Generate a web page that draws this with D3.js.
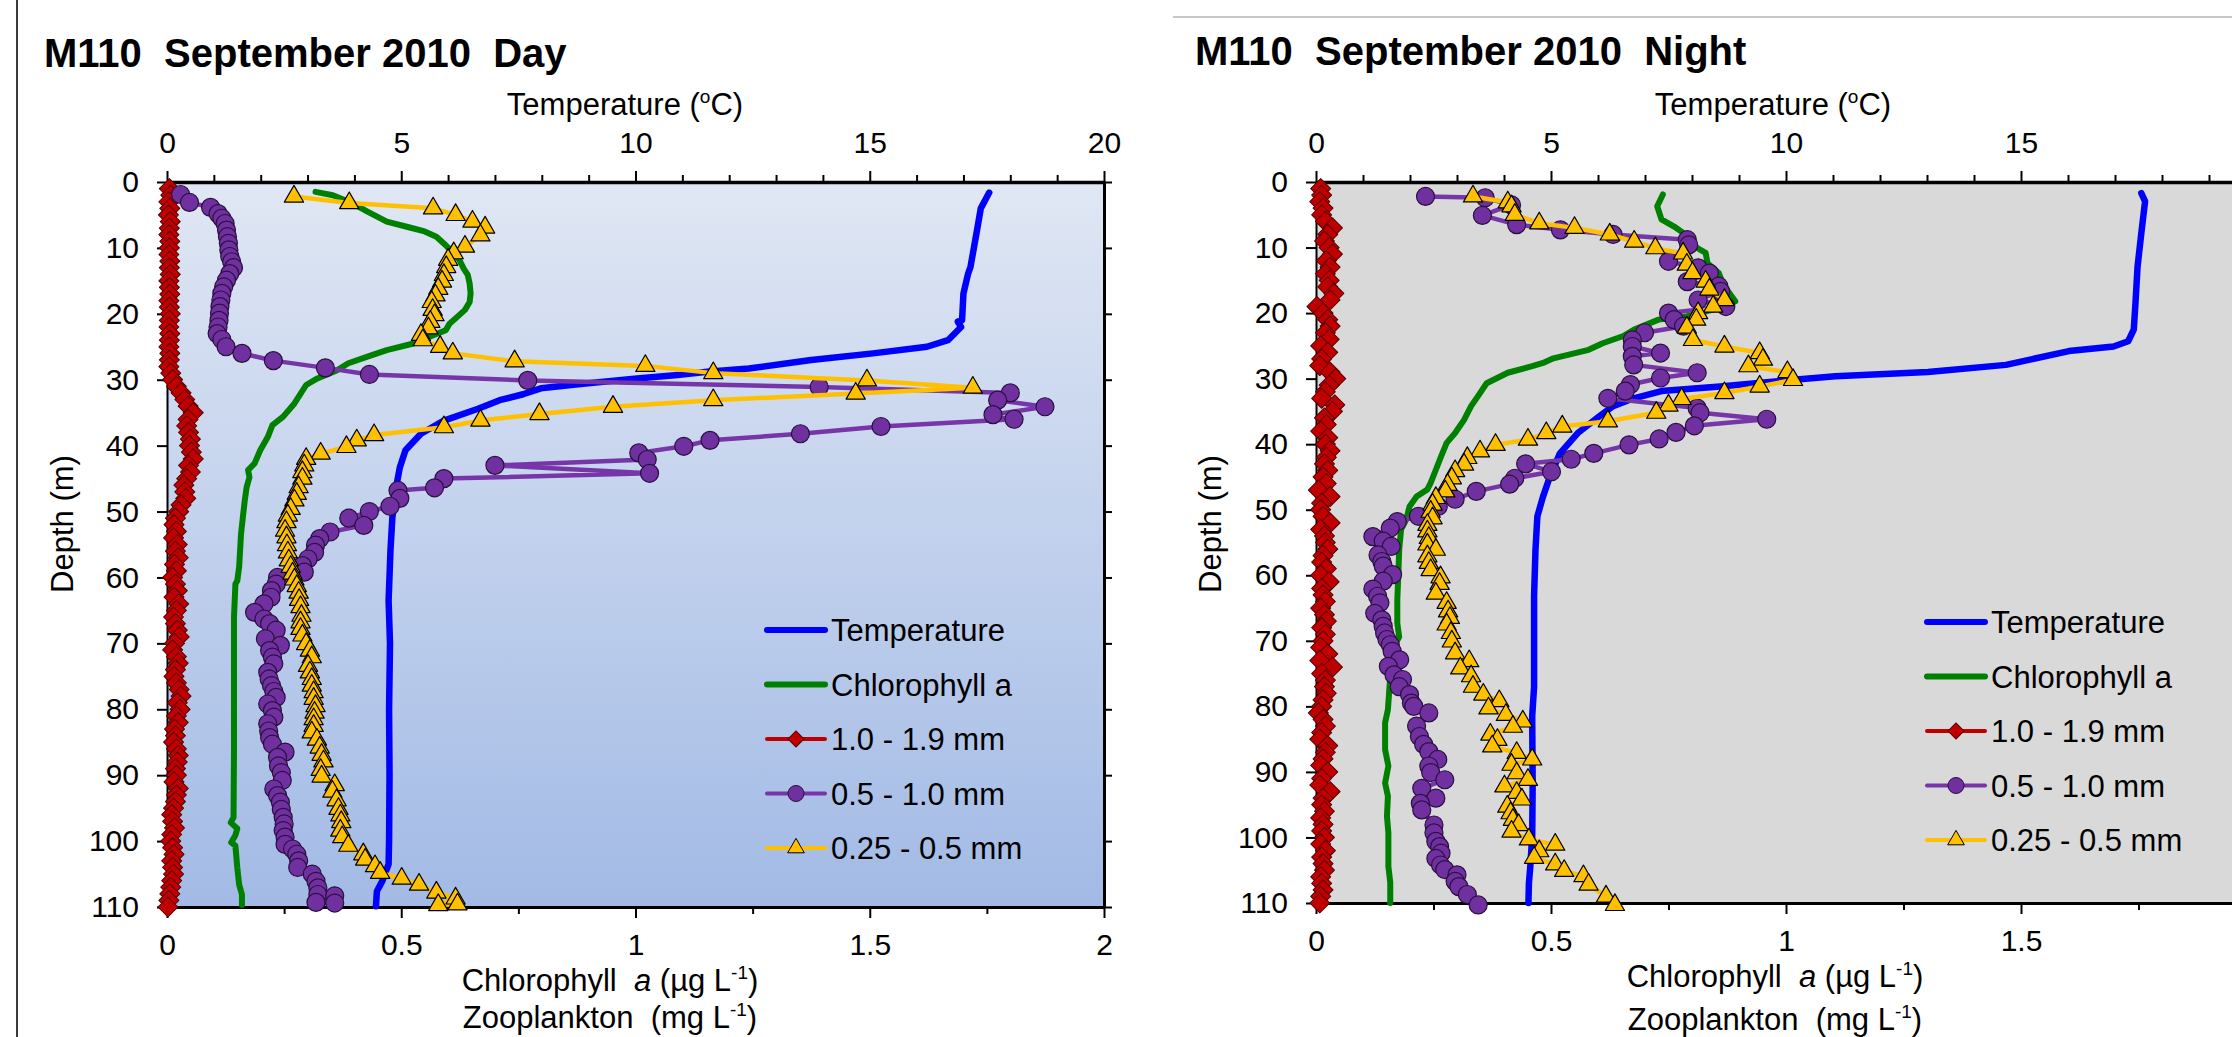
<!DOCTYPE html>
<html>
<head>
<meta charset="utf-8">
<script src="https://cdn.jsdelivr.net/npm/d3@7"></script>
<style>
  body { margin: 0; background: #fff; }
  svg { display: block; font-family: "Liberation Sans", Arial, sans-serif; }
  text { white-space: pre; }
</style>
</head>
<body>
<script>
// ---- data: [depth (m), value] ----
const dayTemp = [[1.6,17.55],[4.0,17.37],[7.3,17.29],[12.9,17.15],[13.9,17.1],[16.9,17.0],[21,16.97],[21.2,16.88],[22,16.95],[24,16.67],[25,16.22],[26,15.07],[27,13.75],[28.3,12.42],[28.8,11.53],[29.3,10.9],[29.8,10.03],[30.6,8.88],[31.3,7.98],[32.2,7.6],[33.1,7.1],[34.4,6.64],[36.2,5.91],[38.2,5.42],[40.7,5.09],[43.3,4.97],[46.3,4.89],[50.9,4.81],[55.9,4.77],[63.5,4.73],[70,4.76],[80,4.74],[90,4.75],[100,4.74],[103.5,4.73],[106,4.6],[107.6,4.48],[109.9,4.46]]

const dayChl = [[1.5,0.317],[2,0.354],[3.2,0.395],[4.5,0.428],[6,0.469],[6.9,0.518],[7.5,0.55],[8.3,0.575],[9.6,0.595],[10.8,0.612],[11.8,0.624],[13.1,0.633],[14.1,0.642],[15.4,0.646],[16.9,0.648],[18.2,0.646],[19.4,0.636],[20.5,0.619],[21.5,0.603],[22.5,0.595],[24,0.542],[24.5,0.526],[25.5,0.469],[26.5,0.428],[27.5,0.387],[28.6,0.362],[29.8,0.321],[30.8,0.297],[33.6,0.272],[35.6,0.248],[36.9,0.225],[38.7,0.215],[40.7,0.199],[42.7,0.187],[43.7,0.173],[44.8,0.176],[46.3,0.17],[48.3,0.166],[50.8,0.162],[53.4,0.158],[55.9,0.156],[58.4,0.154],[60.5,0.15],[61,0.146],[66,0.143],[76,0.143],[86.3,0.143],[96.4,0.142],[97.2,0.136],[98.1,0.15],[99.1,0.146],[100.2,0.137],[100.7,0.146],[104,0.15],[106.6,0.154],[108.1,0.16],[109.7,0.16]]

const dayMid = [[1.9,0.029],[3.1,0.048],[3.85,0.093],[4.8,0.109],[5.5,0.117],[6.3,0.124],[7.3,0.127],[8.3,0.129],[9.3,0.131],[10.3,0.132],[11.3,0.134],[12.1,0.138],[13,0.142],[13.9,0.134],[14.9,0.127],[15.9,0.121],[16.9,0.117],[17.9,0.115],[18.9,0.113],[19.9,0.112],[21,0.111],[22,0.109],[23,0.107],[23.9,0.117],[25,0.126],[26,0.16],[27.1,0.227],[28.2,0.338],[29.2,0.432],[30.1,0.77],[31.1,1.392],[32,1.8],[33.1,1.773],[34.1,1.874],[35.3,1.763],[36,1.808],[37.1,1.524],[38.2,1.352],[39.2,1.159],[40.1,1.103],[41.1,1.007],[42.1,1.025],[43,0.7],[44.2,1.03],[45,0.591],[46.4,0.571],[46.8,0.493],[48,0.497],[49.2,0.476],[50,0.432],[51,0.388],[52.1,0.42],[53.1,0.348],[54.1,0.326],[55.1,0.317],[56.2,0.315],[57.2,0.301],[58.2,0.289],[59.2,0.293],[60,0.236],[61,0.233],[62,0.223],[63,0.222],[64,0.207],[65.3,0.187],[66.3,0.207],[67,0.219],[68,0.233],[69.3,0.21],[70.3,0.242],[71.1,0.219],[72.1,0.225],[73.1,0.228],[74.4,0.215],[75.4,0.218],[76.4,0.223],[77.3,0.228],[78.2,0.233],[79.2,0.215],[80.2,0.225],[81.2,0.228],[82.2,0.215],[83.3,0.217],[84.3,0.219],[85.3,0.225],[86.5,0.252],[87.3,0.236],[88.6,0.238],[89.6,0.244],[90.8,0.246],[92.1,0.228],[93.1,0.236],[94.1,0.242],[95.2,0.244],[96.4,0.248],[97.4,0.25],[98.4,0.248],[99.4,0.252],[100.5,0.252],[101.2,0.268],[102,0.277],[103,0.281],[104,0.279],[105,0.31],[106.1,0.318],[107.1,0.322],[108.1,0.322],[108.3,0.358],[109.3,0.318],[109.4,0.358]]

const daySmall = [[2.2,0.271],[3.2,0.389],[4,0.568],[5,0.616],[6,0.652],[6.9,0.679],[8.1,0.669],[9.8,0.636],[10.8,0.612],[11.8,0.6],[12.9,0.596],[14.1,0.591],[15.1,0.587],[16.2,0.579],[17.2,0.573],[18.2,0.565],[19.4,0.567],[20.2,0.571],[21.2,0.562],[22.2,0.558],[23.2,0.542],[24,0.546],[25,0.583],[26,0.61],[27.2,0.742],[27.9,1.021],[29,1.166],[30.1,1.494],[31.2,1.72],[32.1,1.47],[33.1,1.166],[34.1,0.952],[35.2,0.795],[36.2,0.669],[37.2,0.591],[38.4,0.442],[39.2,0.405],[40.2,0.383],[41.2,0.328],[42,0.297],[43,0.293],[44,0.289],[45,0.289],[46.3,0.281],[47.3,0.277],[48.3,0.272],[49.6,0.264],[50.6,0.258],[51.6,0.255],[52.9,0.252],[53.9,0.255],[55.1,0.256],[56.2,0.258],[57.4,0.26],[58.4,0.264],[59.4,0.268],[60.3,0.272],[61.3,0.277],[62.3,0.281],[63.4,0.282],[64.5,0.285],[65.8,0.287],[66.8,0.285],[67.8,0.285],[68.8,0.289],[70.1,0.297],[71.1,0.305],[72.1,0.309],[73.4,0.301],[74.4,0.305],[75.4,0.309],[76.4,0.309],[77.4,0.313],[78.4,0.313],[79.5,0.317],[80.5,0.315],[81.5,0.313],[82.5,0.313],[83.5,0.309],[84.6,0.32],[85.8,0.326],[86.9,0.33],[87.9,0.334],[89.2,0.328],[90.2,0.33],[91.5,0.358],[92.5,0.353],[93.8,0.362],[95.1,0.366],[96.1,0.37],[97.1,0.372],[98.4,0.37],[99.4,0.374],[100.7,0.387],[102,0.419],[102.8,0.423],[103.8,0.444],[104.8,0.455],[105.7,0.501],[106.6,0.538],[107.8,0.575],[108.7,0.616],[109.7,0.579],[109.6,0.62]]

const redDepths = [1,2,3,4,5,6,7,8,9,10,11,12,13,14,15,16,17,18,19,20,21,22,23,24,25,26,27,28,29,30,31,32,33,34,35,36,37,38,39,40,41,42,43,44,45,46,47,48,49,50,51,52,53,54,55,56,57,58,59,60,61,62,63,64,65,66,67,68,69,70,71,72,73,74,75,76,77,78,79,80,81,82,83,84,85,86,87,88,89,90,91,92,93,94,95,96,97,98,99,100,101,102,103,104,105,106,107,108,109,110]

const dayLarge = [0.005,0.008,0.004,0.006,0.003,0.007,0.005,0.004,0.006,0.005,0.004,0.006,0.005,0.007,0.004,0.005,0.006,0.004,0.005,0.007,0.005,0.004,0.006,0.005,0.004,0.006,0.005,0.004,0.008,0.012,0.02,0.03,0.038,0.045,0.056,0.045,0.042,0.046,0.05,0.048,0.052,0.056,0.046,0.05,0.042,0.036,0.038,0.04,0.03,0.025,0.018,0.015,0.02,0.014,0.022,0.018,0.024,0.016,0.02,0.012,0.018,0.022,0.015,0.025,0.02,0.014,0.018,0.022,0.026,0.016,0.012,0.02,0.024,0.018,0.015,0.02,0.026,0.03,0.022,0.028,0.02,0.024,0.016,0.018,0.014,0.02,0.024,0.022,0.018,0.02,0.015,0.024,0.02,0.018,0.014,0.01,0.012,0.016,0.01,0.008,0.012,0.015,0.01,0.012,0.014,0.01,0.008,0.006,0.004,0.002]

const nightTemp = [[1.7,17.56],[2.95,17.64],[7.8,17.56],[12.9,17.48],[17.95,17.44],[22.5,17.4],[24.3,17.28],[25.1,16.97],[25.8,16.02],[27.9,14.68],[29.0,13.02],[29.65,11.05],[30.2,10.1],[31.2,8.6],[31.9,7.35],[33,6.76],[34.2,6.32],[35.8,6.02],[38.3,5.57],[41.4,5.19],[44.9,4.98],[48,4.83],[51,4.71],[56.1,4.67],[63.2,4.64],[77,4.64],[81.5,4.6],[91.7,4.61],[99.8,4.6],[104.4,4.56],[107,4.53],[110,4.52]]

const nightChl = [[1.9,0.738],[3.7,0.726],[5.7,0.735],[6.8,0.762],[7.8,0.782],[9.8,0.805],[10.8,0.829],[12.4,0.833],[13.9,0.857],[15.4,0.865],[16.7,0.877],[18.2,0.892],[19,0.869],[20.5,0.789],[21,0.729],[22.5,0.677],[23.5,0.654],[24.6,0.61],[25.6,0.58],[26.9,0.505],[27.6,0.483],[28.1,0.46],[29.1,0.408],[30.7,0.363],[32.2,0.349],[34.2,0.33],[36.3,0.315],[38.3,0.296],[39.8,0.278],[41.9,0.266],[43.9,0.255],[45.9,0.244],[46.9,0.237],[48,0.214],[49.5,0.199],[51.5,0.192],[53,0.181],[56.1,0.177],[60.2,0.175],[63.7,0.173],[67.3,0.173],[69.4,0.177],[71.4,0.162],[75.4,0.158],[80.5,0.153],[82.5,0.147],[86.6,0.147],[89.1,0.154],[91.7,0.147],[93.7,0.153],[96.8,0.151],[99.3,0.154],[104.4,0.154],[106.9,0.158],[110,0.158]]

const nightMid = [[2.2,0.233],[2.4,0.36],[3.5,0.416],[5.1,0.354],[6.5,0.427],[7.3,0.52],[8.0,0.632],[8.8,0.79],[9.6,0.793],[12.1,0.75],[13.1,0.813],[13.9,0.837],[15.2,0.79],[15.9,0.857],[16.7,0.861],[18,0.813],[19,0.872],[20,0.75],[21,0.762],[22,0.782],[23,0.699],[24.1,0.673],[25.1,0.673],[26.1,0.733],[26.6,0.673],[27.9,0.676],[29.1,0.811],[29.9,0.733],[30.9,0.669],[31.9,0.658],[33,0.621],[34.5,0.811],[35.2,0.817],[36.2,0.959],[37.2,0.805],[38.2,0.766],[39.2,0.73],[40.1,0.666],[41.4,0.591],[42.3,0.543],[43,0.446],[44.2,0.501],[45.2,0.423],[46.1,0.412],[47.2,0.341],[48.4,0.296],[49.5,0.26],[51,0.218],[51.8,0.173],[52.8,0.158],[54.1,0.121],[54.8,0.143],[55.6,0.16],[56.9,0.132],[57.9,0.14],[58.6,0.143],[59.9,0.163],[60.9,0.143],[62.1,0.121],[63.2,0.131],[64.2,0.136],[65.8,0.125],[66.8,0.14],[67.8,0.143],[68.8,0.146],[69.8,0.151],[70.6,0.158],[71.6,0.162],[72.9,0.178],[73.9,0.154],[75.2,0.166],[75.9,0.184],[77,0.177],[78.2,0.199],[79.5,0.203],[80,0.208],[81,0.24],[83,0.214],[84.6,0.22],[85.8,0.229],[86.9,0.24],[88.1,0.259],[89.1,0.24],[90.1,0.244],[91.2,0.274],[92.5,0.225],[94,0.255],[94.8,0.222],[95.8,0.225],[98.1,0.251],[99.3,0.251],[100.6,0.255],[101.4,0.263],[102.4,0.266],[103.2,0.255],[104.2,0.265],[104.9,0.274],[105.7,0.3],[106.7,0.296],[107.5,0.304],[108.7,0.322],[110.3,0.345]]

const nightSmall = [[2.2,0.334],[3.1,0.408],[3.7,0.416],[5,0.423],[6.3,0.475],[7,0.55],[8,0.625],[9.1,0.677],[10.1,0.722],[10.9,0.781],[12.6,0.789],[13.9,0.801],[15.2,0.829],[16.4,0.837],[18,0.869],[19,0.845],[20,0.813],[21,0.809],[22.2,0.789],[24.1,0.802],[25.1,0.869],[26.1,0.944],[27.1,0.951],[28.1,0.92],[29,1.003],[30.2,1.015],[31.2,0.944],[32.2,0.869],[33.1,0.778],[34.1,0.75],[35.2,0.724],[36.5,0.621],[37.3,0.524],[38.3,0.49],[39.3,0.451],[40.1,0.382],[41.1,0.349],[42.1,0.322],[43.1,0.315],[44.1,0.296],[45.2,0.289],[46.2,0.28],[47.2,0.275],[48.2,0.255],[49.2,0.248],[50.3,0.244],[51.3,0.248],[52.3,0.237],[53.3,0.237],[54.3,0.24],[55.3,0.237],[56.1,0.255],[57.1,0.237],[58.1,0.24],[59.2,0.244],[60.3,0.265],[61.3,0.263],[62.8,0.255],[64.2,0.278],[65.5,0.281],[66.5,0.285],[67.5,0.278],[68.8,0.287],[70.1,0.289],[71.9,0.296],[73.1,0.326],[74.2,0.307],[75.4,0.33],[77,0.334],[78.2,0.356],[79.2,0.39],[80.3,0.367],[81.3,0.404],[82.3,0.44],[83.1,0.419],[84.3,0.371],[85.1,0.386],[86.1,0.375],[87.1,0.427],[88.1,0.46],[88.9,0.416],[90.2,0.427],[91.2,0.451],[92.2,0.401],[93.2,0.427],[94.2,0.438],[95.3,0.407],[96.3,0.414],[97.3,0.419],[98.1,0.431],[99.1,0.416],[100.3,0.453],[101.1,0.509],[102.1,0.475],[103.1,0.464],[104.1,0.509],[105.1,0.528],[105.9,0.569],[107.2,0.58],[109,0.617],[110.3,0.636]]

const nightLarge = [0.01,0.012,0.008,0.015,0.012,0.02,0.035,0.025,0.018,0.028,0.035,0.022,0.03,0.02,0.028,0.025,0.038,0.03,0.002,0.015,0.025,0.03,0.02,0.028,0.01,0.025,0.012,0.008,0.03,0.042,0.028,0.02,0.012,0.04,0.035,0.018,0.022,0.01,0.025,0.02,0.03,0.022,0.018,0.025,0.015,0.022,0.005,0.03,0.012,0.01,0.015,0.03,0.01,0.018,0.02,0.025,0.015,0.012,0.022,0.01,0.028,0.012,0.015,0.02,0.01,0.018,0.022,0.012,0.02,0.015,0.01,0.025,0.008,0.035,0.012,0.02,0.018,0.022,0.015,0.012,0.005,0.015,0.02,0.012,0.008,0.025,0.02,0.015,0.01,0.025,0.012,0.008,0.03,0.015,0.012,0.018,0.01,0.015,0.012,0.018,0.01,0.02,0.012,0.015,0.018,0.01,0.012,0.015,0.01,0.008]

const legendLabels = ['Temperature', 'Chlorophyll a', '1.0 - 1.9 mm', '0.5 - 1.0 mm', '0.25 - 0.5 mm']
const tempTicks = [0, 5, 10, 15, 20]
const concTicks = [0, 0.5, 1, 1.5, 2]
const depthTicks = [0, 10, 20, 30, 40, 50, 60, 70, 80, 90, 100, 110]

// ---- canvas ----
const W = 2232, H = 1037
const svg = d3.select('body').append('svg').attr('width', W).attr('height', H)

svg.append('line').attr('x1', 17).attr('x2', 17).attr('y1', 0).attr('y2', H)
  .attr('stroke', '#3a3a3a').attr('stroke-width', 2)
svg.append('line').attr('x1', 1173).attr('x2', W).attr('y1', 17).attr('y2', 17)
  .attr('stroke', '#c8c8c8').attr('stroke-width', 2)

const grad = svg.append('defs').append('linearGradient').attr('id', 'dayFill')
  .attr('x1', 0).attr('y1', 0).attr('x2', 0).attr('y2', 1)
grad.append('stop').attr('offset', '0%').attr('stop-color', '#e0e7f4')
grad.append('stop').attr('offset', '100%').attr('stop-color', '#a2bae5')

const C = { temp: '#0000ff', chl: '#008000', red: '#c00000', purple: '#7030a0', yellow: '#ffc000' }

const panels = [
  { title: 'M110  September 2010  Day', tx: 44, ty: 67, x0: 167, x1: 1104, y0: 182, y1: 907,
    fill: 'url(#dayFill)', topLabelX: 625, botLabelX: 610, chlY: 991, zooY: 1028, depthX: 62,
    legX: 765, legY: 630,
    temp: dayTemp, chl: dayChl, large: dayLarge, mid: dayMid, small: daySmall },
  { title: 'M110  September 2010  Night', tx: 1195, ty: 65, x0: 1316, x1: 2256, y0: 182, y1: 903,
    fill: '#d9d9d9', topLabelX: 1773, botLabelX: 1775, chlY: 987, zooY: 1030, depthX: 1210,
    legX: 1925, legY: 622,
    temp: nightTemp, chl: nightChl, large: nightLarge, mid: nightMid, small: nightSmall }
]

const diamond = d3.symbol().type(d3.symbolSquare).size(200)
const tri = d3.symbol().type(d3.symbolTriangle).size(160)

panels.forEach(p => {
  const x = d3.scaleLinear().domain([0, 2]).range([p.x0, p.x1])
  const xt = d3.scaleLinear().domain([0, 20]).range([p.x0, p.x1])
  const y = d3.scaleLinear().domain([0, 110]).range([p.y0, p.y1])

  const g = svg.append('g')

  g.append('rect').attr('x', p.x0).attr('y', p.y0)
    .attr('width', p.x1 - p.x0).attr('height', p.y1 - p.y0).attr('fill', p.fill)

  // axes
  const styleAxis = (sel, w) => {
    sel.attr('font-family', null).attr('font-size', 30)
    sel.select('.domain').attr('stroke', '#000').attr('stroke-width', w)
    sel.selectAll('.tick line').attr('stroke', '#000').attr('stroke-width', 2)
    sel.selectAll('.tick text').attr('fill', '#000')
  }

  // labels whose position falls past the page edge are not shown (as in the source)
  const topAx = g.append('g').attr('transform', `translate(0,${p.y0})`)
    .call(d3.axisTop(xt).tickValues(d3.range(0, 21)).tickSize(7).tickSizeOuter(0)
      .tickFormat(d => tempTicks.includes(d) && xt(d) < W - 10 ? d : ''))
  styleAxis(topAx, 3.5)
  topAx.selectAll('.tick line').filter(d => d % 5 === 0).attr('y2', -11)
  topAx.selectAll('.tick text').attr('y', -(p.y0 - 153)).attr('dy', 0)

  const botAx = g.append('g').attr('transform', `translate(0,${p.y1})`)
    .call(d3.axisBottom(x).tickValues(d3.range(0, 2.01, 0.25)).tickSize(7).tickSizeOuter(0)
      .tickFormat(d => concTicks.includes(d) && x(d) < W - 10 ? d : ''))
  styleAxis(botAx, 3)
  botAx.selectAll('.tick line').filter(d => concTicks.includes(d)).attr('y2', 11)
  botAx.selectAll('.tick text').attr('y', 48).attr('dy', 0)

  const leftAx = g.append('g').attr('transform', `translate(${p.x0},0)`)
    .call(d3.axisLeft(y).tickValues(depthTicks).tickSize(10).tickPadding(18).tickSizeOuter(0))
  styleAxis(leftAx, 2)

  const rightAx = g.append('g').attr('transform', `translate(${p.x1},0)`)
    .call(d3.axisRight(y).tickValues(depthTicks).tickSize(8).tickSizeOuter(0).tickFormat(''))
  styleAxis(rightAx, 3)

  // series
  const lineT = d3.line().x(d => xt(d[1])).y(d => y(d[0]))
  const lineC = d3.line().x(d => x(d[1])).y(d => y(d[0]))
  const plot = g.append('g').attr('stroke-linejoin', 'round').attr('stroke-linecap', 'round').attr('fill', 'none')

  plot.append('path').attr('d', lineT(p.temp)).attr('stroke', C.temp).attr('stroke-width', 6.5)
  plot.append('path').attr('d', lineC(p.chl)).attr('stroke', C.chl).attr('stroke-width', 6)

  const large = redDepths.map((d, i) => [d, p.large[i]])
  plot.append('path').attr('d', lineC(large)).attr('stroke', C.red).attr('stroke-width', 4)
  plot.selectAll('.dia').data(large).enter().append('path')
    .attr('d', diamond)
    .attr('transform', d => `translate(${x(d[1])},${y(d[0])}) rotate(45)`)
    .attr('fill', C.red).attr('stroke', '#5a0000').attr('stroke-width', 1)

  plot.append('path').attr('d', lineC(p.mid)).attr('stroke', '#7636a8').attr('stroke-width', 4.5)
  plot.selectAll('.cir').data(p.mid).enter().append('circle')
    .attr('cx', d => x(d[1])).attr('cy', d => y(d[0])).attr('r', 9)
    .attr('fill', C.purple).attr('stroke', '#2a1040').attr('stroke-width', 1.2)

  plot.append('path').attr('d', lineC(p.small)).attr('stroke', C.yellow).attr('stroke-width', 4.5)
  plot.selectAll('.tri').data(p.small).enter().append('path')
    .attr('d', tri)
    .attr('transform', d => `translate(${x(d[1])},${y(d[0])})`)
    .attr('fill', C.yellow).attr('stroke', '#000').attr('stroke-width', 1.2)

  // titles
  g.append('text').attr('x', p.tx).attr('y', p.ty).attr('font-size', 40).attr('font-weight', 'bold')
    .text(p.title)

  const tT = g.append('text').attr('x', p.topLabelX).attr('y', 115).attr('font-size', 31).attr('text-anchor', 'middle')
  tT.append('tspan').text('Temperature (')
  tT.append('tspan').attr('font-size', 19).attr('dy', -12).text('o')
  tT.append('tspan').attr('dy', 12).text('C)')

  const tC = g.append('text').attr('x', p.botLabelX).attr('y', p.chlY).attr('font-size', 31).attr('text-anchor', 'middle')
  tC.append('tspan').text('Chlorophyll  ')
  tC.append('tspan').attr('font-style', 'italic').text('a')
  tC.append('tspan').text(' (\u00b5g L')
  tC.append('tspan').attr('font-size', 19).attr('dy', -12).text('-1')
  tC.append('tspan').attr('dy', 12).text(')')

  const tZ = g.append('text').attr('x', p.botLabelX).attr('y', p.zooY).attr('font-size', 31).attr('text-anchor', 'middle')
  tZ.append('tspan').text('Zooplankton  (mg L')
  tZ.append('tspan').attr('font-size', 19).attr('dy', -12).text('-1')
  tZ.append('tspan').attr('dy', 12).text(')')

  g.append('text').attr('transform', `translate(${p.depthX},524) rotate(-90)`)
    .attr('font-size', 31).attr('text-anchor', 'middle').attr('dy', '0.35em').text('Depth (m)')

  // legend
  const leg = g.append('g').attr('transform', `translate(${p.legX},${p.legY})`)
  const cols = [C.temp, C.chl, C.red, '#7636a8', C.yellow]
  legendLabels.forEach((lab, i) => {
    const row = leg.append('g').attr('transform', `translate(0,${i * 54.5})`)
    row.append('line').attr('x1', 2).attr('x2', 60).attr('stroke', cols[i])
      .attr('stroke-width', i < 2 ? 6 : 4).attr('stroke-linecap', 'round')
    if (i === 2) row.append('path').attr('d', d3.symbol().type(d3.symbolSquare).size(130))
      .attr('transform', 'translate(31,0) rotate(45)').attr('fill', C.red).attr('stroke', '#5a0000')
    if (i === 3) row.append('circle').attr('cx', 31).attr('r', 8).attr('fill', C.purple).attr('stroke', '#2a1040')
    if (i === 4) row.append('path').attr('d', d3.symbol().type(d3.symbolTriangle).size(120))
      .attr('transform', 'translate(31,0)').attr('fill', C.yellow).attr('stroke', '#000')
    row.append('text').attr('x', 66).attr('dy', '0.36em').attr('font-size', 31).text(lab)
  })
})
</script>
</body>
</html>
